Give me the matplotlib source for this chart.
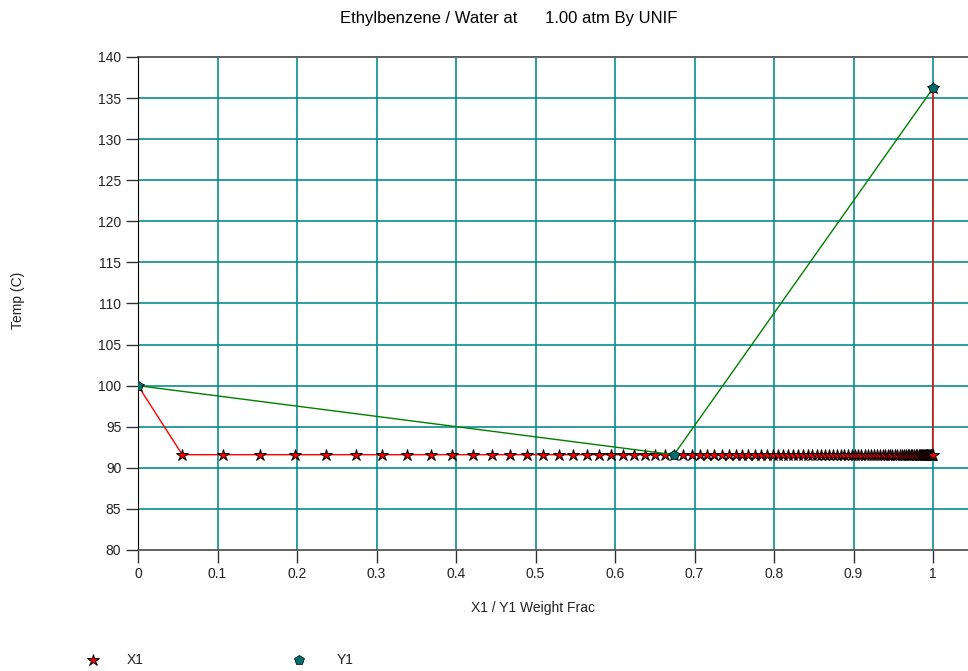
import matplotlib
matplotlib.use('Agg')
import numpy as np
import matplotlib.pyplot as plt
from matplotlib.lines import Line2D

plt.rcParams['font.family'] = ['Liberation Sans', 'DejaVu Sans']

# liquid composition (X1) and vapour composition (Y1), weight fraction
x1 = [0.0, 0.0557, 0.1073, 0.1535, 0.1975, 0.2365, 0.2742, 0.3073, 0.338, 0.3686,
      0.3953, 0.421, 0.4449, 0.468, 0.4889, 0.5098, 0.5296, 0.5476, 0.5644, 0.5803,
      0.595, 0.6105, 0.6243, 0.6377, 0.6503, 0.6629, 0.6742, 0.6859, 0.6965, 0.7069,
      0.7161, 0.7249, 0.7342, 0.743, 0.7518, 0.7597, 0.7677, 0.7757, 0.7833, 0.7908,
      0.7983, 0.8054, 0.8117, 0.818, 0.8243, 0.8306, 0.8369, 0.8424, 0.8482, 0.8537,
      0.859, 0.864, 0.869, 0.874, 0.879, 0.884, 0.8885, 0.893, 0.8975, 0.902,
      0.906, 0.910, 0.914, 0.918, 0.922, 0.926, 0.9295, 0.933, 0.9365, 0.940,
      0.943, 0.946, 0.949, 0.952, 0.955, 0.958, 0.9605, 0.963, 0.9655, 0.968,
      0.970, 0.972, 0.974, 0.976, 0.978, 0.980, 0.982, 0.9835, 0.985, 0.9865,
      0.988, 0.989, 0.990, 0.991, 0.992, 0.993, 0.994, 0.995, 0.996, 0.997,
      0.998, 0.9985, 0.999, 0.9993, 0.9995, 0.9996, 0.9997, 0.9998, 1.0]
t1 = [100.0] + [91.6] * 104 + [100.0, 107.0, 114.0, 136.2]

y1 = [0.0, 0.6742, 1.0]
ty1 = [100.0, 91.6, 136.2]

xticks = [0, 0.1, 0.2, 0.3, 0.4, 0.5, 0.6, 0.7, 0.8, 0.9, 1]
xticklabels = ['0', '0.1', '0.2', '0.3', '0.4', '0.5', '0.6', '0.7', '0.8', '0.9', '1']
yticks = list(range(80, 141, 5))

teal = '#0a8c8c'
mk_teal = '#006b6b'

fig = plt.figure(figsize=(9.68, 6.71), dpi=100)
ax = fig.add_axes([138/968, 1-550/671, 1-138/968, (550-57)/671])

for v in yticks[1:-1]:
    ax.axhline(v, color=teal, lw=1.2, zorder=1)
for v in xticks[1:]:
    ax.axvline(v, color=teal, lw=1.2, zorder=1)
ax.axhline(140, color='#555555', lw=1.3, zorder=1, clip_on=False)

# markers only on the flat part of the liquid curve
marks = list(range(len(x1) - 4)) + [len(x1) - 1]
ax.plot(x1, t1, color='red', lw=1, marker='*', ms=9, mfc='red', mec='black',
        mew=0.7, markevery=marks, zorder=3)
ax.plot(y1, ty1, color='green', lw=1, marker='p', ms=7.5, mfc=mk_teal, mec='black',
        mew=0.5, zorder=4)

ax.set_xlim(0, 1.044)
ax.set_ylim(80, 140)
ax.set_xticks(xticks)
ax.set_xticklabels(xticklabels)
ax.set_yticks(yticks)
ax.tick_params(axis='both', length=9, width=1, color='#333333', labelsize=10,
               labelcolor='#222222', pad=3)
ax.spines['top'].set_visible(False)
ax.spines['right'].set_visible(False)
ax.spines['bottom'].set_color('#555555')
ax.spines['bottom'].set_linewidth(1.3)
ax.spines['left'].set_color('black')

fig.text(509/968, 1-18/671, 'Ethylbenzene / Water at      1.00 atm By UNIF',
         ha='center', va='center', fontsize=12)
fig.text(18/968, 1-300/671, 'Temp (C)', rotation=90, ha='center', va='center',
         fontsize=10, color='#222222')
fig.text(533/968, 1-608/671, 'X1 / Y1 Weight Frac', ha='center', va='center',
         fontsize=10, color='#222222')

# legend row at the bottom
fig.add_artist(Line2D([93/968], [1-660/671], transform=fig.transFigure, marker='*',
                      ms=9, mfc='red', mec='black', mew=0.7, ls='none'))
fig.text(127/968, 1-660/671, 'X1', ha='left', va='center', fontsize=10, color='#222222')
fig.add_artist(Line2D([299/968], [1-660/671], transform=fig.transFigure, marker='p',
                      ms=7.5, mfc=mk_teal, mec='black', mew=0.5, ls='none'))
fig.text(337/968, 1-660/671, 'Y1', ha='left', va='center', fontsize=10, color='#222222')

plt.savefig('out.png', dpi=100)
